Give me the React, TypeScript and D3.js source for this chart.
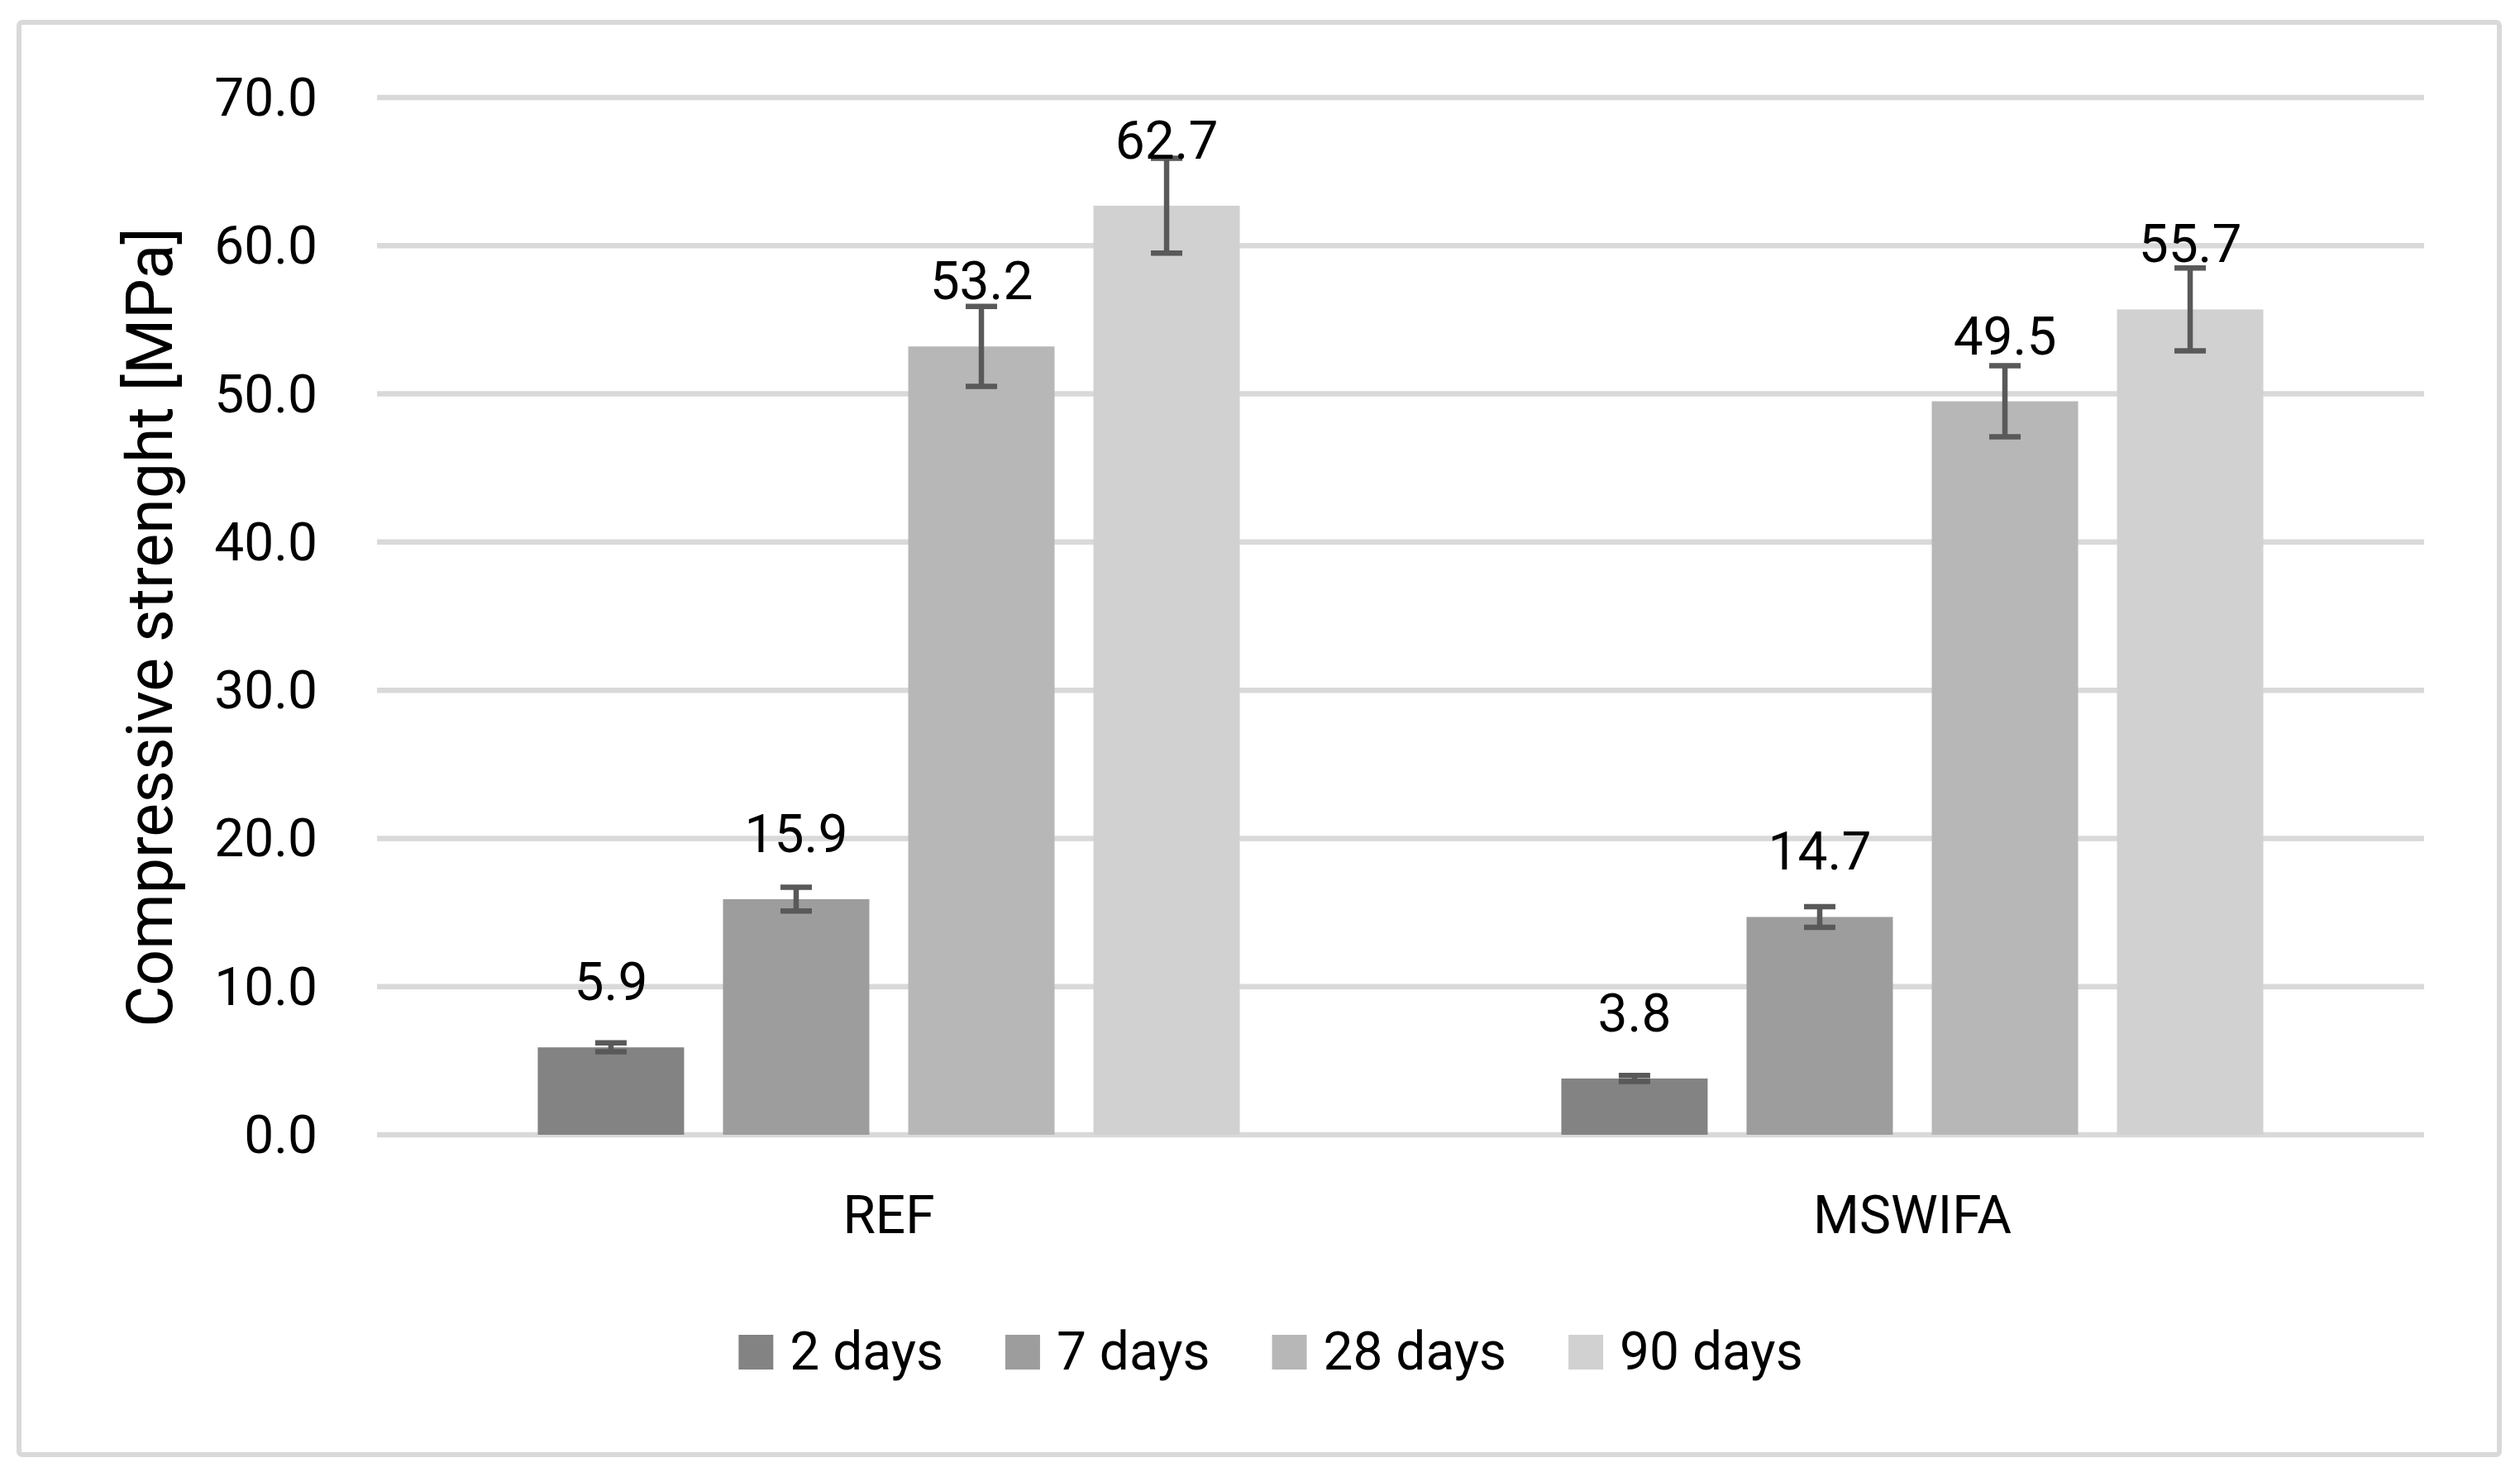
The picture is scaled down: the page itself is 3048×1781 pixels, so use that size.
import React, { useEffect, useRef } from 'react';
import * as d3 from 'd3';

// Chart values
const categories = ['REF', 'MSWIFA'];
const seriesNames = ['2 days', '7 days', '28 days', '90 days'];
const seriesColors = ['#838383', '#9D9D9D', '#B7B7B7', '#D1D1D1'];
const refValues = [5.9, 15.9, 53.2, 62.7];
const mswifaValues = [3.8, 14.7, 49.5, 55.7];
const refErrors = [0.3, 0.8, 2.7, 3.2];
const mswifaErrors = [0.2, 0.7, 2.4, 2.8];
const yTicks = [0, 10, 20, 30, 40, 50, 60, 70];
const yLabel = 'Compressive strenght [MPa]';

const WIDTH = 3048;
const HEIGHT = 1781;
const FONT = 'Roboto, "Open Sans", sans-serif';

/**
 * Grouped bar chart with error bars, Excel look
 */
const CompressiveChart: React.FC = () => {
  const svgRef = useRef<SVGSVGElement>(null);

  useEffect(() => {
    if (!svgRef.current) return;

    const svg = d3.select(svgRef.current);
    svg.selectAll('*').remove();

    const plot = { left: 456, right: 2932, top: 118, bottom: 1373 };

    const rows = categories.map((c, i) => ({
      category: c,
      values: (i === 0 ? refValues : mswifaValues).map((v, j) => ({
        series: seriesNames[j],
        value: v,
        err: (i === 0 ? refErrors : mswifaErrors)[j],
        color: seriesColors[j]
      }))
    }));

    // Scales
    const x0 = d3.scaleBand<string>().domain(categories).range([plot.left, plot.right]).padding(0);
    const x1 = d3
      .scaleBand<string>()
      .domain(seriesNames)
      .range([0, x0.bandwidth()])
      .paddingInner(0.21)
      .paddingOuter(0.868);
    const y = d3.scaleLinear().domain([0, 70]).range([plot.bottom, plot.top]);

    // Background and chart border
    svg.append('rect').attr('width', WIDTH).attr('height', HEIGHT).attr('fill', '#fff');
    svg
      .append('rect')
      .attr('x', 23)
      .attr('y', 27)
      .attr('width', 3000)
      .attr('height', 1733)
      .attr('rx', 4)
      .attr('fill', 'none')
      .attr('stroke', '#D9D9D9')
      .attr('stroke-width', 6);

    // Gridlines
    svg
      .append('g')
      .selectAll('line')
      .data(yTicks)
      .enter()
      .append('line')
      .attr('x1', plot.left)
      .attr('x2', plot.right)
      .attr('y1', d => y(d))
      .attr('y2', d => y(d))
      .attr('stroke', '#D9D9D9')
      .attr('stroke-width', 6.5);

    // Y tick labels
    svg
      .append('g')
      .selectAll('text')
      .data(yTicks)
      .enter()
      .append('text')
      .attr('x', 384)
      .attr('y', d => y(d) + 22)
      .attr('text-anchor', 'end')
      .style('font-family', FONT)
      .style('font-size', '64px')
      .style('fill', '#000')
      .text(d => d3.format('.1f')(d));

    // Y axis title
    svg
      .append('text')
      .attr('transform', `translate(208, 759) rotate(-90)`)
      .attr('text-anchor', 'middle')
      .style('font-family', FONT)
      .style('font-size', '77px')
      .style('fill', '#000')
      .text(yLabel);

    // Bars
    const groups = svg
      .append('g')
      .selectAll('g')
      .data(rows)
      .enter()
      .append('g')
      .attr('transform', d => `translate(${x0(d.category)},0)`);

    groups
      .selectAll('rect')
      .data(d => d.values)
      .enter()
      .append('rect')
      .attr('x', d => x1(d.series) as number)
      .attr('width', x1.bandwidth())
      .attr('y', d => y(d.value))
      .attr('height', d => y(0) - y(d.value))
      .attr('fill', d => d.color);

    // Error bars
    const capW = 38;
    const errG = groups
      .selectAll('g.err')
      .data(d => d.values)
      .enter()
      .append('g')
      .attr('class', 'err')
      .attr('stroke', '#595959')
      .attr('stroke-width', 6.5);

    const cx = (d: { series: string }) => (x1(d.series) as number) + x1.bandwidth() / 2;

    errG
      .append('line')
      .attr('x1', cx)
      .attr('x2', cx)
      .attr('y1', d => y(d.value + d.err))
      .attr('y2', d => y(d.value - d.err));
    errG
      .append('line')
      .attr('x1', d => cx(d) - capW / 2)
      .attr('x2', d => cx(d) + capW / 2)
      .attr('y1', d => y(d.value + d.err))
      .attr('y2', d => y(d.value + d.err));
    errG
      .append('line')
      .attr('x1', d => cx(d) - capW / 2)
      .attr('x2', d => cx(d) + capW / 2)
      .attr('y1', d => y(d.value - d.err))
      .attr('y2', d => y(d.value - d.err));

    // Data labels
    groups
      .selectAll('text.lbl')
      .data(d => d.values)
      .enter()
      .append('text')
      .attr('class', 'lbl')
      .attr('x', cx)
      .attr('y', d => y(d.value) - 57)
      .attr('text-anchor', 'middle')
      .style('font-family', FONT)
      .style('font-size', '64px')
      .style('fill', '#000')
      .text(d => d3.format('.1f')(d.value));

    // Category labels
    svg
      .append('g')
      .selectAll('text')
      .data(categories)
      .enter()
      .append('text')
      .attr('x', d => (x0(d) as number) + x0.bandwidth() / 2)
      .attr('y', 1492)
      .attr('text-anchor', 'middle')
      .style('font-family', FONT)
      .style('font-size', '64px')
      .style('fill', '#000')
      .text(d => d);

    // Legend, centred under the chart
    const sw = 42;
    const swGap = 20;
    const itemGap = 75;
    const legendBase = 1657;
    const legend = svg.append('g');
    const items = legend
      .selectAll('g')
      .data(seriesNames)
      .enter()
      .append('g');
    items
      .append('rect')
      .attr('width', sw)
      .attr('height', sw)
      .attr('y', legendBase - sw)
      .attr('fill', (_, i) => seriesColors[i]);
    const texts = items
      .append('text')
      .attr('x', sw + swGap)
      .attr('y', legendBase)
      .style('font-family', FONT)
      .style('font-size', '64px')
      .style('fill', '#000')
      .text(d => d);

    const widths: number[] = [];
    texts.each(function () {
      widths.push((this as SVGTextElement).getComputedTextLength());
    });
    const itemW = widths.map(w => sw + swGap + w);
    const total = d3.sum(itemW) + itemGap * (itemW.length - 1);
    let cursor = 1537 - total / 2;
    const offsets = itemW.map(w => {
      const o = cursor;
      cursor += w + itemGap;
      return o;
    });
    items.attr('transform', (_, i) => `translate(${offsets[i]},0)`);
  }, []);

  return <svg ref={svgRef} width={WIDTH} height={HEIGHT} style={{ display: 'block' }} />;
};

export default function App() {
  return (
    <div style={{ position: 'absolute', left: 0, top: 0, width: WIDTH, height: HEIGHT, background: '#fff' }}>
      <CompressiveChart />
    </div>
  );
}
